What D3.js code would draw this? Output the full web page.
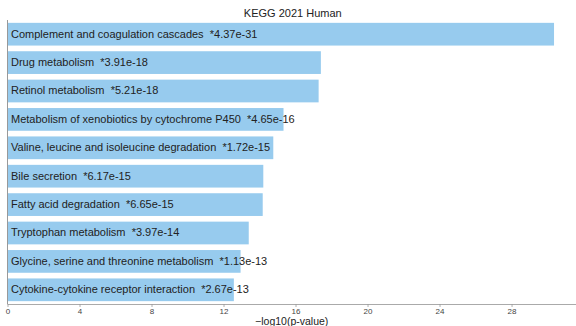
<!DOCTYPE html>
<html>
<head>
<meta charset="utf-8">
<script src="https://cdn.jsdelivr.net/npm/d3@7"></script>
<style>
  body { margin: 0; background: #fff; }
  svg { display: block; font-family: "Liberation Sans", Arial, sans-serif; }
</style>
</head>
<body>
<svg id="chart" width="576" height="326"></svg>
<script>
// Enrichment terms, top to bottom
const terms = [
  "Complement and coagulation cascades",
  "Drug metabolism",
  "Retinol metabolism",
  "Metabolism of xenobiotics by cytochrome P450",
  "Valine, leucine and isoleucine degradation",
  "Bile secretion",
  "Fatty acid degradation",
  "Tryptophan metabolism",
  "Glycine, serine and threonine metabolism",
  "Cytokine-cytokine receptor interaction"
];
const pValues = [4.37e-31, 3.91e-18, 5.21e-18, 4.65e-16, 1.72e-15, 6.17e-15, 6.65e-15, 3.97e-14, 1.13e-13, 2.67e-13];
const pLabels = ["4.37e-31", "3.91e-18", "5.21e-18", "4.65e-16", "1.72e-15", "6.17e-15", "6.65e-15", "3.97e-14", "1.13e-13", "2.67e-13"];
const xTicks = [0, 4, 8, 12, 16, 20, 24, 28];
const xMax = 31.58;

const svg = d3.select("#chart");
const plotLeft = 7.5, plotRight = 576, plotTop = 20, plotBottom = 304;

const x = d3.scaleLinear().domain([0, xMax]).range([plotLeft, plotRight]);
const y = d3.scaleBand().domain(terms).range([plotTop, plotBottom]).paddingInner(0.2).paddingOuter(0.1);

const rows = terms.map((t, i) => ({ term: t, score: -Math.log10(pValues[i]), label: pLabels[i] }));

// bars
svg.append("g").selectAll("rect").data(rows).join("rect")
  .attr("x", x(0))
  .attr("y", d => y(d.term))
  .attr("width", d => x(d.score) - x(0))
  .attr("height", y.bandwidth())
  .attr("fill", "#97cbee");

// term labels inside bars
svg.append("g").selectAll("text").data(rows).join("text")
  .attr("x", x(0) + 3.5)
  .attr("y", d => y(d.term) + y.bandwidth() / 2 - 0.5)
  .attr("dy", "0.35em")
  .attr("font-size", 11)
  .attr("fill", "#222")
  .style("white-space", "pre")
  .text(d => d.term + "  *" + d.label);

// x axis
const xAxis = svg.append("g")
  .attr("transform", `translate(0,${plotBottom})`)
  .call(d3.axisBottom(x).tickValues(xTicks).tickSize(3).tickPadding(1));
xAxis.select(".domain").attr("stroke", "#aaa").attr("stroke-width", 1).attr("d", `M${plotLeft},0.5H${plotRight}`);
xAxis.selectAll(".tick line").attr("stroke", "#999").attr("stroke-width", 0.8);
xAxis.selectAll(".tick text").attr("font-size", 8).attr("fill", "#444")
  .attr("font-family", "'Liberation Sans', Arial, sans-serif");

// left spine
svg.append("line")
  .attr("x1", plotLeft).attr("x2", plotLeft)
  .attr("y1", plotTop).attr("y2", plotBottom)
  .attr("stroke", "#999").attr("stroke-width", 1);

// title
svg.append("text")
  .attr("x", (plotLeft + plotRight) / 2 + 1)
  .attr("y", 17)
  .attr("text-anchor", "middle")
  .attr("font-size", 11)
  .attr("fill", "#222")
  .text("KEGG 2021 Human");

// x label
svg.append("text")
  .attr("x", (plotLeft + plotRight) / 2)
  .attr("y", 324.5)
  .attr("text-anchor", "middle")
  .attr("font-size", 10.5)
  .attr("fill", "#222")
  .text("\u2212log10(p-value)");
</script>
</body>
</html>
